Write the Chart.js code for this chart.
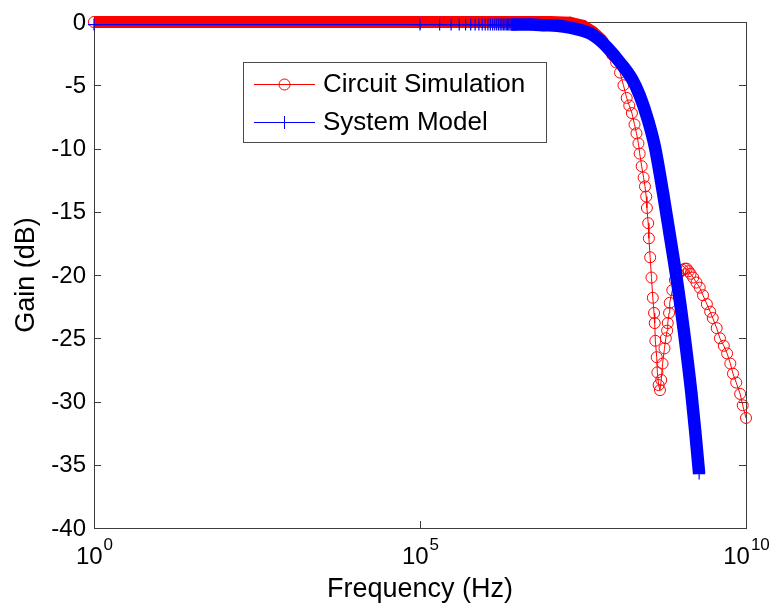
<!DOCTYPE html>
<html>
<head>
<meta charset="utf-8">
<script src="https://cdn.jsdelivr.net/npm/chart.js@4.4.1/dist/chart.umd.min.js"></script>
<style>
  html, body { margin: 0; padding: 0; background: #fff; }
  canvas { display: block; }
</style>
</head>
<body>
<canvas id="myChart" width="775" height="607"></canvas>
<script>
// Circuit Simulation (frequency in Hz, gain in dB)
const circuitHz = [
    1, 10, 100, 1e3, 1e4, 1e5, 1e6, 1e7,
    2.0e7, 3.16e7, 4.47e7, 6.31e7, 8.91e7, 1.02e8, 1.17e8, 1.32e8,
    1.48e8, 1.62e8, 1.78e8, 1.95e8, 2.09e8, 2.24e8, 2.34e8, 2.51e8,
    2.69e8, 2.82e8, 2.95e8, 3.02e8, 3.16e8, 3.24e8, 3.39e8, 3.55e8,
    3.72e8, 3.89e8, 3.98e8, 4.07e8, 4.27e8, 4.37e8, 4.57e8, 4.79e8,
    5.01e8, 5.25e8, 5.62e8, 5.89e8, 6.17e8, 6.31e8, 6.61e8, 6.76e8,
    7.41e8, 8.13e8, 9.12e8, 1.0e9, 1.07e9, 1.15e9, 1.23e9, 1.32e9,
    1.41e9, 1.55e9, 1.74e9, 1.95e9, 2.19e9, 2.51e9, 2.82e9, 3.09e9,
    3.55e9, 3.98e9, 4.57e9, 5.13e9, 5.75e9, 6.31e9, 7.08e9, 8.13e9,
    8.91e9, 1e10
];
const circuitGain = [
    0, 0, 0, 0, 0, 0, 0, 0,
    -0.05, -0.3, -0.8, -1.5, -2.6, -3.2, -4.0, -5.0,
    -6.0, -6.6, -7.2, -8.1, -8.8, -9.6, -10.4, -11.4,
    -12.3, -13.0, -13.8, -14.7, -15.9, -17.1, -18.6, -20.2,
    -21.8, -23.0, -23.8, -25.2, -26.5, -27.7, -28.7, -29.1,
    -28.3, -27.0, -25.8, -25.0, -24.4, -23.8, -23.0, -22.2,
    -21.2, -20.4, -19.9, -19.7, -19.6, -19.5, -19.5, -19.7,
    -19.9, -20.2, -20.6, -21.0, -21.6, -22.3, -22.9, -23.4,
    -24.2, -25.0, -25.6, -26.2, -27.0, -27.8, -28.5, -29.4,
    -30.3, -31.3
];

// System Model
const modelHz = [
    1, 1e5, 2e5, 3e5, 4e5, 5e5, 6e5, 7e5, 8e5, 9e5,
    1.0e6, 1.1e6, 1.2e6, 1.3e6, 1.4e6, 1.5e6, 1.6e6, 1.7e6, 1.8e6, 1.9e6,
    2.0e6, 2.1e6, 2.2e6, 2.3e6, 2.4e6, 2.5e6, 2.6e6, 2.7e6, 2.8e6, 2.9e6, 3.0e6,
    5.01e6, 7.94e6, 1.26e7, 2.0e7, 3.16e7, 4.07e7, 5.62e7, 7.41e7, 1.17e8,
    1.78e8, 2.34e8, 3.16e8, 3.98e8, 5.37e8, 6.76e8, 8.71e8, 1.12e9,
    1.45e9, 1.66e9, 1.91e9
];
const modelGain = [
    -0.2, -0.2, -0.2, -0.2, -0.2, -0.2, -0.2, -0.2, -0.2, -0.2,
    -0.2, -0.2, -0.2, -0.2, -0.2, -0.2, -0.2, -0.2, -0.2, -0.2,
    -0.2, -0.2, -0.2, -0.2, -0.2, -0.2, -0.2, -0.2, -0.2, -0.2, -0.2,
    -0.2, -0.25, -0.3, -0.45, -0.7, -0.9, -1.4, -2.0, -3.2,
    -4.5, -5.8, -7.8, -9.8, -13.6, -16.8, -20.4, -24.5,
    -29.3, -32.3, -35.7
];

const seriesNames = ["Circuit Simulation", "System Model"];
const xTickValues = [1, 1e5, 1e10];
const xTickExponents = ["0", "5", "10"];
const yTickValues = [0, -5, -10, -15, -20, -25, -30, -35, -40];
const xTitle = "Frequency (Hz)";
const yTitle = "Gain (dB)";

const FONT = "'Liberation Sans', Arial, Helvetica, sans-serif";

function toPoints(xs, ys) {
    return xs.map((x, i) => ({ x: x, y: ys[i] }));
}

// axes box, inward ticks, tick labels and titles
const axesPlugin = {
    id: "axesPlugin",
    beforeDatasetsDraw(chart) {
        const ctx = chart.ctx;
        const a = chart.chartArea;
        const xs = chart.scales.x;
        const ys = chart.scales.y;
        ctx.save();
        ctx.strokeStyle = "#3c3c3c";
        ctx.lineWidth = 1;
        ctx.strokeRect(a.left + 0.5, a.top + 0.5, a.right - a.left, a.bottom - a.top);
        ctx.beginPath();
        yTickValues.forEach(v => {
            const y = Math.round(ys.getPixelForValue(v)) + 0.5;
            ctx.moveTo(a.left, y); ctx.lineTo(a.left + 7, y);
            ctx.moveTo(a.right, y); ctx.lineTo(a.right - 7, y);
        });
        xTickValues.forEach(v => {
            const x = Math.round(xs.getPixelForValue(v)) + 0.5;
            ctx.moveTo(x, a.bottom); ctx.lineTo(x, a.bottom - 7);
            ctx.moveTo(x, a.top); ctx.lineTo(x, a.top + 7);
        });
        ctx.stroke();
        ctx.restore();
    },
    afterDraw(chart) {
        const ctx = chart.ctx;
        const a = chart.chartArea;
        const xs = chart.scales.x;
        const ys = chart.scales.y;
        ctx.save();
        ctx.fillStyle = "#000";

        ctx.font = "24px " + FONT;
        ctx.textAlign = "right";
        ctx.textBaseline = "middle";
        yTickValues.forEach(v => {
            ctx.fillText(String(v), a.left - 8, ys.getPixelForValue(v) + 1);
        });

        ctx.textAlign = "left";
        ctx.textBaseline = "alphabetic";
        xTickValues.forEach((v, i) => {
            const x = xs.getPixelForValue(v);
            ctx.font = "24px " + FONT;
            const wBase = ctx.measureText("10").width;
            ctx.font = "17px " + FONT;
            const wExp = ctx.measureText(xTickExponents[i]).width;
            const start = x - (wBase + wExp) / 2;
            ctx.font = "24px " + FONT;
            ctx.fillText("10", start, a.bottom + 36);
            ctx.font = "17px " + FONT;
            ctx.fillText(xTickExponents[i], start + wBase + 1, a.bottom + 22);
        });

        ctx.font = "27px " + FONT;
        ctx.textAlign = "center";
        ctx.fillText(xTitle, (a.left + a.right) / 2, 597);

        ctx.translate(34, (a.top + a.bottom) / 2);
        ctx.rotate(-Math.PI / 2);
        ctx.fillText(yTitle, 0, 0);
        ctx.restore();
    }
};

// legend box inside the plot
const legendPlugin = {
    id: "legendPlugin",
    afterDatasetsDraw(chart) {
        const ctx = chart.ctx;
        ctx.save();
        ctx.fillStyle = "#fff";
        ctx.fillRect(243, 62, 303, 80);
        ctx.strokeStyle = "#4a4a4a";
        ctx.lineWidth = 1;
        ctx.strokeRect(243.5, 62.5, 303, 80);

        const rows = [84, 122];
        chart.data.datasets.forEach((ds, i) => {
            const y = rows[i];
            ctx.strokeStyle = ds.borderColor;
            ctx.lineWidth = 1;
            ctx.beginPath();
            ctx.moveTo(254, y + 0.5);
            ctx.lineTo(315, y + 0.5);
            ctx.stroke();
            ctx.beginPath();
            if (ds.pointStyle === "circle") {
                ctx.arc(284.5, y + 0.5, 5.5, 0, Math.PI * 2);
            } else {
                ctx.moveTo(284.5, y - 6);
                ctx.lineTo(284.5, y + 7);
            }
            ctx.stroke();
            ctx.fillStyle = "#000";
            ctx.font = "26px " + FONT;
            ctx.textAlign = "left";
            ctx.textBaseline = "middle";
            ctx.fillText(ds.label, 323, y + 1);
        });
        ctx.restore();
    }
};

const chart = new Chart(document.getElementById("myChart"), {
    type: "line",
    data: {
        datasets: [
            {
                label: seriesNames[0],
                data: toPoints(circuitHz, circuitGain),
                borderColor: "#ff0000",
                borderWidth: 1,
                pointStyle: "circle",
                pointRadius: 5.5,
                pointBorderWidth: 1,
                pointBorderColor: "#ff0000",
                pointBackgroundColor: "rgba(0,0,0,0)",
                tension: 0,
                clip: false,
                order: 1,
                segment: {
                    // dense overlapping circles along the flat part read as a solid band
                    borderWidth: c => Math.min(c.p0.parsed.y, c.p1.parsed.y) > -1.6 ? 12 : 1
                }
            },
            {
                label: seriesNames[1],
                data: toPoints(modelHz, modelGain),
                borderColor: "#0000ff",
                borderWidth: 1.2,
                borderJoinStyle: "round",
                cubicInterpolationMode: "monotone",
                pointStyle: "cross",
                pointRadius: 6,
                pointBorderWidth: 1.2,
                pointBorderColor: "#0000ff",
                clip: false,
                order: 0,
                segment: {
                    // markers packed tightly past a few MHz merge into a thick band
                    borderWidth: c => c.p0.parsed.x >= 2.5e6 ? 12.5 : 1.2
                }
            }
        ]
    },
    options: {
        responsive: false,
        animation: false,
        devicePixelRatio: 1,
        layout: { padding: { left: 94, right: 29, top: 22, bottom: 79 } },
        plugins: {
            legend: { display: false },
            tooltip: { enabled: false }
        },
        scales: {
            x: { type: "logarithmic", min: 1, max: 1e10, display: false },
            y: { type: "linear", min: -40, max: 0, display: false }
        }
    },
    plugins: [axesPlugin, legendPlugin]
});
</script>
</body>
</html>
